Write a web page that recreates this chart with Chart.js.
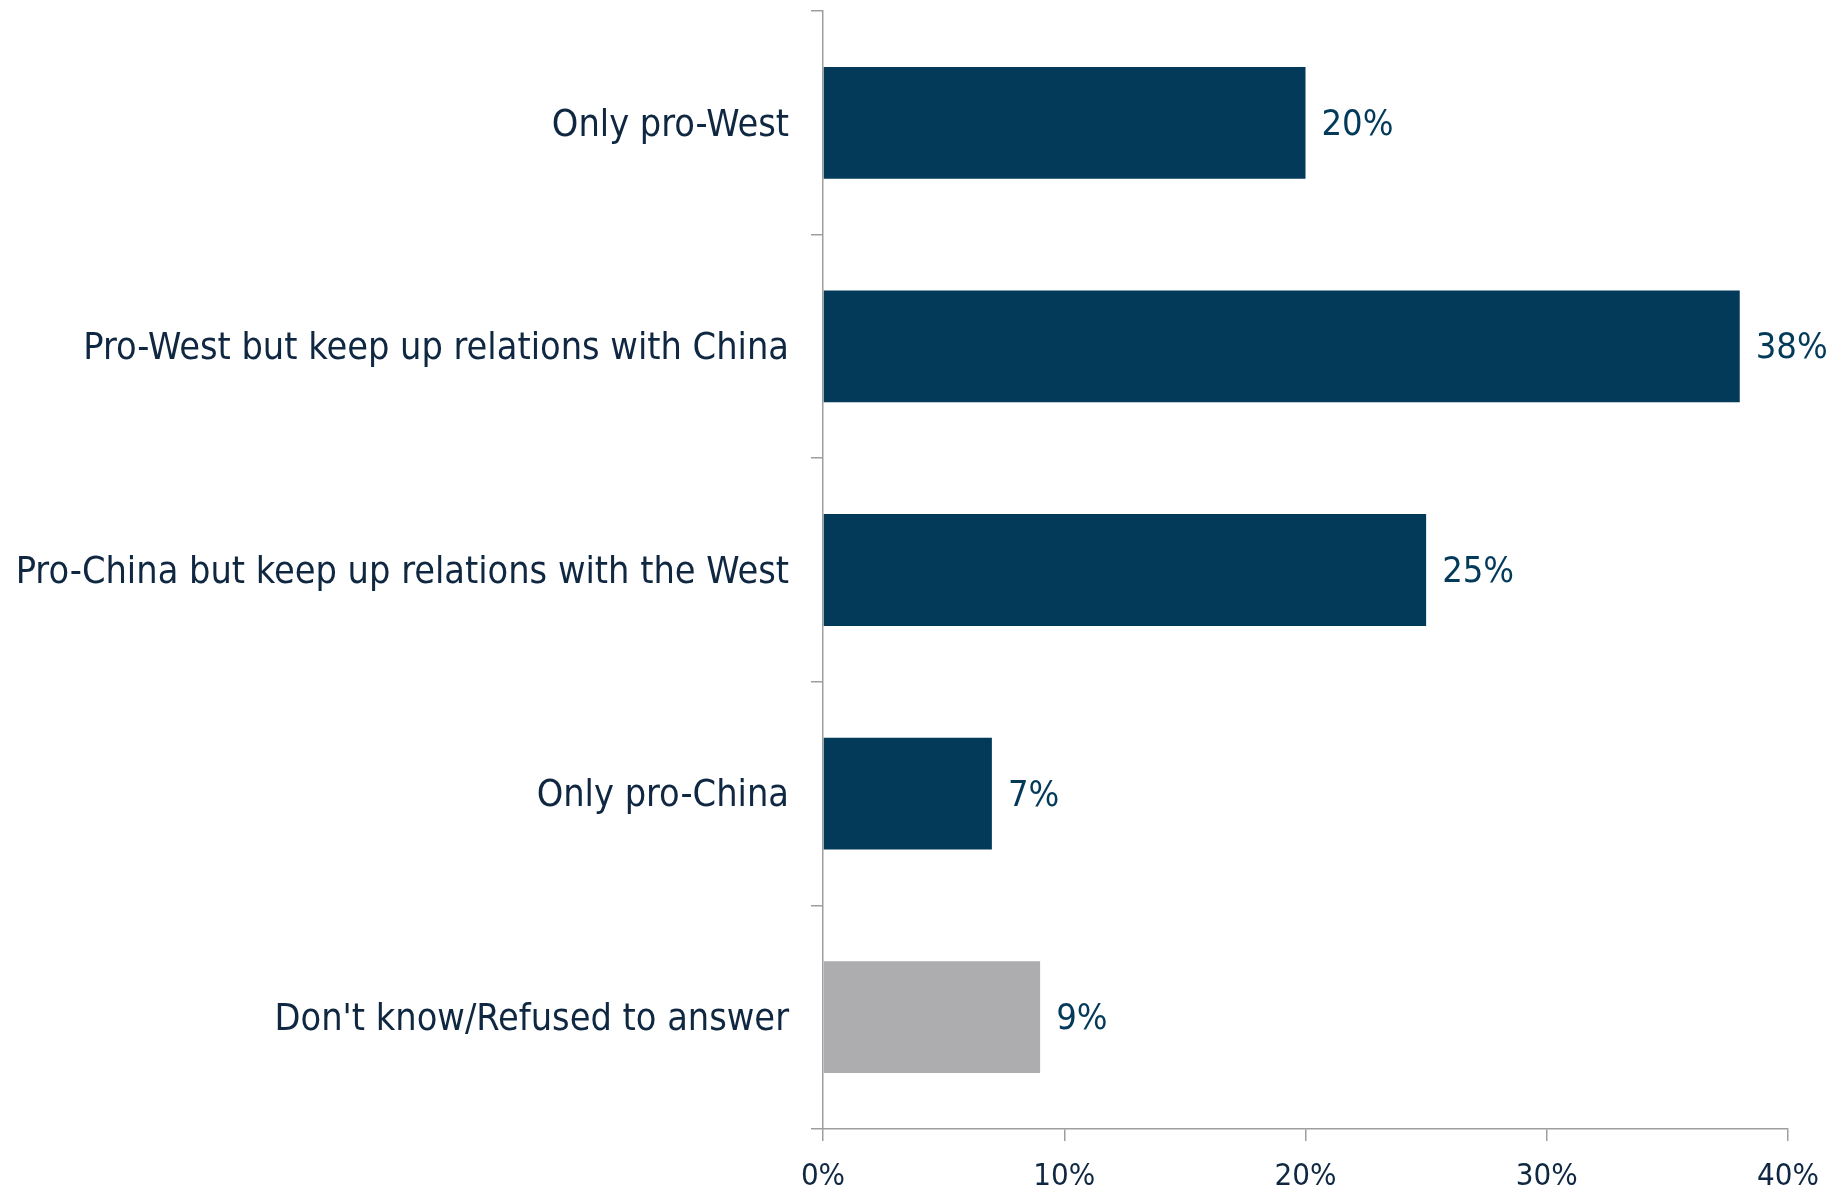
<!DOCTYPE html>
<html>
<head>
<meta charset="utf-8">
<script src="https://cdn.jsdelivr.net/npm/chart.js@4.4.1/dist/chart.umd.min.js"></script>
<style>
  html, body { margin: 0; padding: 0; background: #fff; }
  #wrap { width: 1833px; height: 1192px; }
</style>
</head>
<body>
<div id="wrap"><canvas id="chart" width="1833" height="1192"></canvas></div>
<script>
const categories = [
  'Only pro-West',
  'Pro-West but keep up relations with China',
  'Pro-China but keep up relations with the West',
  'Only pro-China',
  "Don't know/Refused to answer",
];
const values = [20, 38, 25, 7, 9];
const barColors = ['#033a5a', '#033a5a', '#033a5a', '#033a5a', '#adadaf'];
const xTicks = [0, 10, 20, 30, 40];

const FONT = "'DejaVu Sans Condensed', 'DejaVu Sans', sans-serif";

// etiquetas de valor à direita de cada barra
const valueLabels = {
  id: 'valueLabels',
  afterDatasetsDraw(chart) {
    const { ctx } = chart;
    const meta = chart.getDatasetMeta(0);
    ctx.save();
    ctx.font = `36px ${FONT}`;
    ctx.fillStyle = '#033a5a';
    ctx.textAlign = 'left';
    ctx.textBaseline = 'alphabetic';
    meta.data.forEach((bar, i) => {
      ctx.fillText(values[i] + '%', bar.x + 16, bar.y + 12);
    });
    ctx.restore();
  },
};

new Chart(document.getElementById('chart'), {
  type: 'bar',
  data: {
    labels: categories,
    datasets: [{
      data: values,
      backgroundColor: barColors,
      borderWidth: 0,
      barPercentage: 0.5,
      categoryPercentage: 1,
    }],
  },
  options: {
    indexAxis: 'y',
    responsive: false,
    animation: false,
    events: [],
    layout: { padding: { left: 0, right: 45, top: 11, bottom: 0 } },
    plugins: { legend: { display: false }, tooltip: { enabled: false } },
    scales: {
      x: {
        min: 0,
        max: 40,
        afterBuildTicks: s => { s.ticks = xTicks.map(v => ({ value: v })); },
        afterFit: s => { s.height = 63; s.paddingLeft = 0; s.paddingRight = 0; },
        ticks: {
          color: '#0f2741',
          font: { family: FONT, size: 31 },
          padding: 17,
          maxRotation: 0,
          callback: v => v + '%',
        },
        grid: { drawOnChartArea: false, tickLength: 12, color: '#9e9e9e', lineWidth: 1.5 },
        border: { color: '#9e9e9e', width: 1.5 },
      },
      y: {
        afterFit: s => { s.width = 823; s.paddingTop = 0; s.paddingBottom = 0; },
        ticks: {
          color: '#0f2741',
          font: { family: FONT, size: 37.5 },
          padding: 22,
          labelOffset: 3,
        },
        grid: { drawOnChartArea: false, tickLength: 12, color: '#9e9e9e', lineWidth: 1.5 },
        border: { color: '#9e9e9e', width: 1.5 },
      },
    },
  },
  plugins: [valueLabels],
});
</script>
</body>
</html>
